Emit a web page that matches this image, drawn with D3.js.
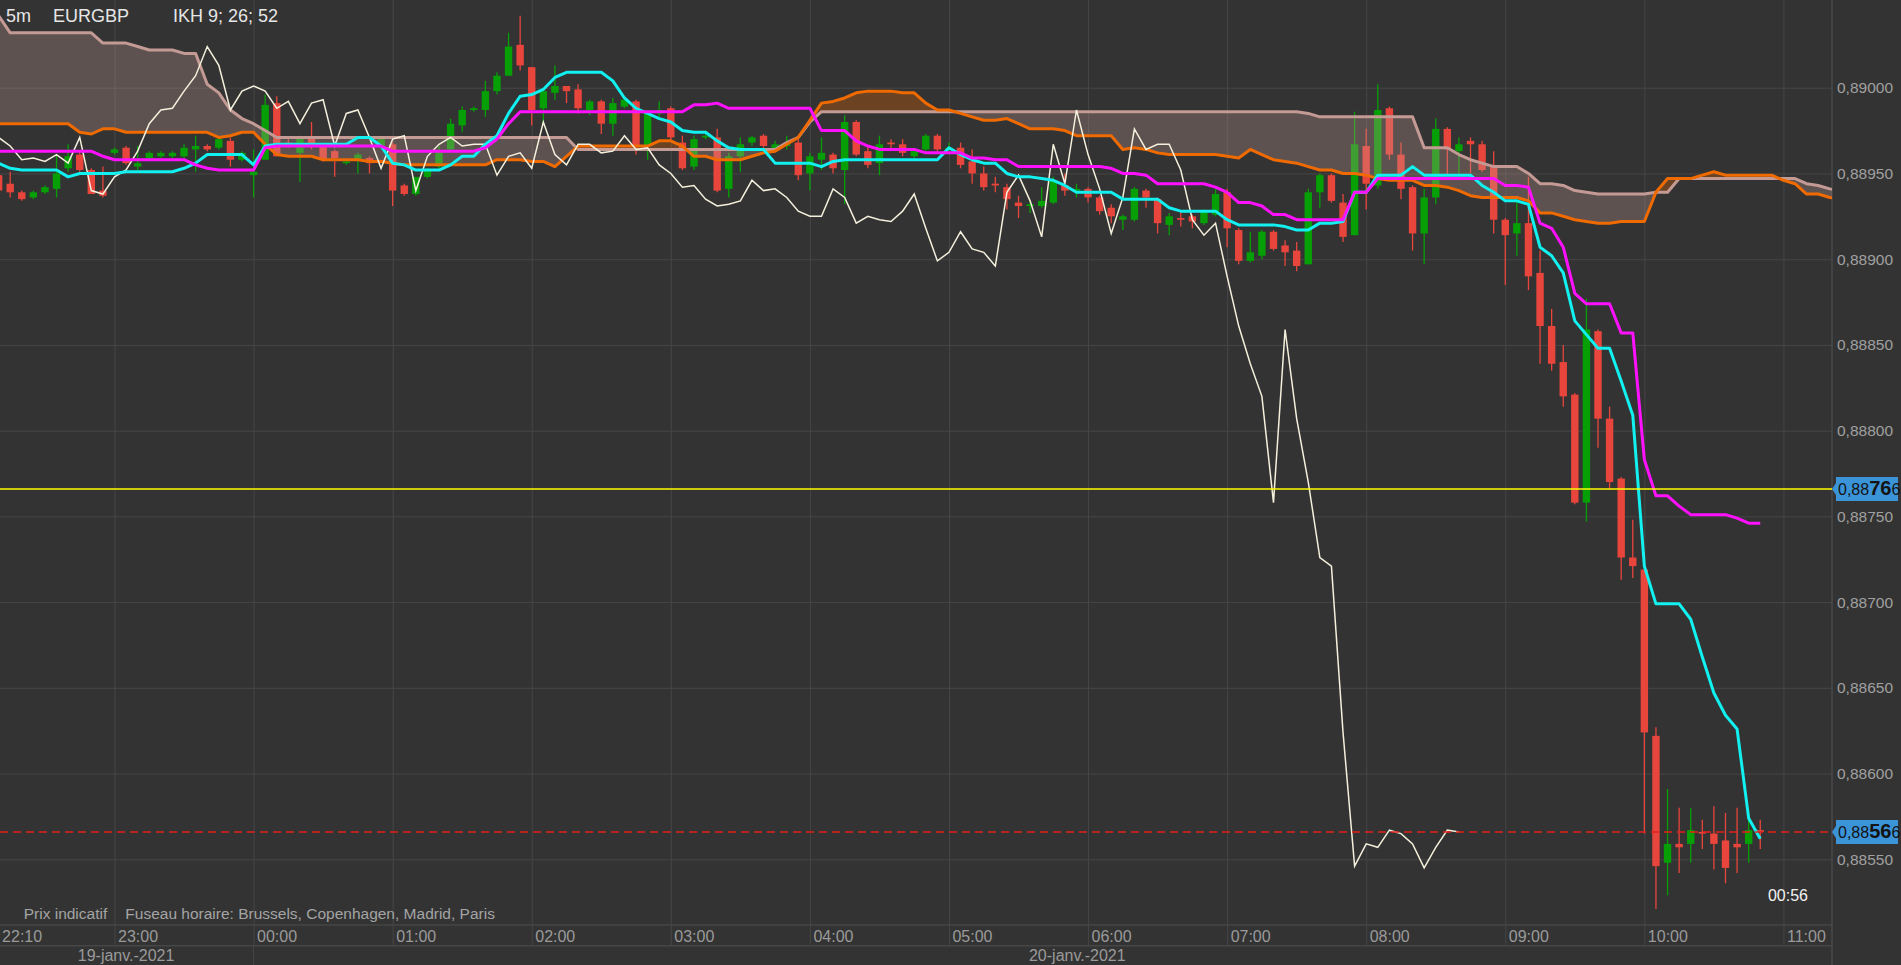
<!DOCTYPE html>
<html>
<head>
<meta charset="utf-8">
<script src="https://cdn.jsdelivr.net/npm/d3@7"></script>
<style>
  body { margin: 0; background: #333333; overflow: hidden; }
  svg { display: block; font-family: "Liberation Sans", Arial, sans-serif; }
</style>
</head>
<body>
<div id="chart"></div>
<script>
// 5 minute candles, EURGBP, 19-01-2021 22:10 -> 20-01-2021 10:50
const opens = [
  0.88949,0.88944,0.88939,0.88936,0.88939,0.88941,0.88953,0.88961,0.88952,0.88940,
  0.88962,0.88965,0.88954,0.88959,0.88960,0.88960,0.88960,0.88964,0.88966,0.88965,
  0.88969,0.88958,0.88949,0.88958,0.88991,0.88968,0.88962,0.88971,0.88966,0.88963,
  0.88956,0.88958,0.88959,0.88966,0.88967,0.88943,0.88938,0.88948,0.88954,0.88964,
  0.88978,0.88987,0.88987,0.88998,0.89007,0.89025,0.89012,0.88988,0.88997,0.89001,
  0.88999,0.88987,0.88992,0.88979,0.88989,0.88992,0.88966,0.88985,0.88988,0.88968,
  0.88954,0.88971,0.88971,0.88941,0.88960,0.88968,0.88972,0.88964,0.88966,0.88968,
  0.88950,0.88958,0.88961,0.88952,0.88980,0.88963,0.88956,0.88968,0.88967,0.88960,
  0.88964,0.88972,0.88964,0.88965,0.88957,0.88950,0.88944,0.88942,0.88933,0.88931,
  0.88931,0.88933,0.88943,0.88940,0.88941,0.88936,0.88930,0.88923,0.88923,0.88940,
  0.88935,0.88920,0.88924,0.88925,0.88921,0.88926,0.88939,0.88917,0.88899,0.88902,
  0.88916,0.88908,0.88905,0.88897,0.88939,0.88949,0.88933,0.88914,0.88966,0.88943,
  0.88988,0.88961,0.88942,0.88915,0.88936,0.88976,0.88963,0.88969,0.88967,0.88954,
  0.88923,0.88915,0.88921,0.88892,0.88861,0.88840,0.88821,0.88758,0.88858,0.88807,
  0.88772,0.88726,0.88719,0.88622,0.88548,0.88559,0.88559,0.88566,0.88565,0.88561,
  0.88559,0.88559,0.88567
];
const highs = [
  0.88951,0.88951,0.88940,0.88940,0.88943,0.88961,0.88967,0.88963,0.88953,0.88954,
  0.88965,0.88966,0.88966,0.88963,0.88963,0.88963,0.88967,0.88972,0.88967,0.88971,
  0.88971,0.88963,0.88964,0.88996,0.88995,0.88970,0.88972,0.88980,0.88967,0.88964,
  0.88958,0.88962,0.88960,0.88972,0.88968,0.88944,0.88948,0.88953,0.88966,0.88982,
  0.88989,0.88989,0.89004,0.89009,0.89032,0.89042,0.89012,0.89000,0.89013,0.89001,
  0.89002,0.88993,0.88993,0.88994,0.88994,0.88993,0.88987,0.88992,0.88989,0.88972,
  0.88972,0.88975,0.88976,0.88962,0.88971,0.88972,0.88973,0.88969,0.88972,0.88970,
  0.88962,0.88971,0.88962,0.88984,0.88981,0.88966,0.88972,0.88970,0.88970,0.88965,
  0.88973,0.88973,0.88968,0.88968,0.88964,0.88954,0.88948,0.88944,0.88937,0.88934,
  0.88942,0.88948,0.88950,0.88944,0.88942,0.88937,0.88932,0.88926,0.88942,0.88941,
  0.88936,0.88927,0.88928,0.88926,0.88929,0.88941,0.88941,0.88918,0.88916,0.88917,
  0.88917,0.88911,0.88910,0.88941,0.88950,0.88950,0.88938,0.88986,0.88976,0.89002,
  0.88989,0.88968,0.88943,0.88941,0.88982,0.88977,0.88971,0.88971,0.88969,0.88963,
  0.88924,0.88937,0.88948,0.88905,0.88871,0.88850,0.88822,0.88877,0.88859,0.88814,
  0.88773,0.88748,0.88729,0.88627,0.88591,0.88580,0.88580,0.88573,0.88581,0.88577,
  0.88580,0.88573,0.88573
];
const lows = [
  0.88938,0.88936,0.88934,0.88935,0.88938,0.88936,0.88951,0.88951,0.88938,0.88936,
  0.88961,0.88955,0.88952,0.88958,0.88959,0.88959,0.88959,0.88951,0.88963,0.88964,
  0.88954,0.88957,0.88936,0.88958,0.88960,0.88965,0.88945,0.88964,0.88957,0.88948,
  0.88955,0.88950,0.88950,0.88965,0.88931,0.88937,0.88937,0.88947,0.88953,0.88962,
  0.88974,0.88986,0.88983,0.88996,0.89007,0.89010,0.88978,0.88979,0.88993,0.88991,
  0.88985,0.88984,0.88973,0.88972,0.88988,0.88961,0.88958,0.88983,0.88969,0.88952,
  0.88952,0.88970,0.88939,0.88936,0.88951,0.88966,0.88965,0.88963,0.88964,0.88946,
  0.88940,0.88952,0.88950,0.88932,0.88960,0.88953,0.88949,0.88964,0.88960,0.88959,
  0.88963,0.88962,0.88963,0.88953,0.88944,0.88940,0.88939,0.88929,0.88924,0.88927,
  0.88930,0.88932,0.88937,0.88936,0.88933,0.88926,0.88921,0.88917,0.88922,0.88930,
  0.88915,0.88914,0.88919,0.88918,0.88920,0.88925,0.88907,0.88897,0.88898,0.88900,
  0.88905,0.88896,0.88893,0.88897,0.88930,0.88933,0.88910,0.88914,0.88929,0.88941,
  0.88958,0.88935,0.88905,0.88897,0.88932,0.88949,0.88949,0.88950,0.88951,0.88915,
  0.88885,0.88902,0.88882,0.88839,0.88835,0.88814,0.88757,0.88747,0.88790,0.88766,
  0.88713,0.88714,0.88565,0.88521,0.88529,0.88542,0.88548,0.88556,0.88544,0.88536,
  0.88542,0.88548,0.88556
];
const closes = [
  0.88940,0.88939,0.88935,0.88939,0.88942,0.88950,0.88960,0.88952,0.88938,0.88937,
  0.88964,0.88956,0.88956,0.88962,0.88962,0.88962,0.88965,0.88966,0.88964,0.88970,
  0.88958,0.88962,0.88951,0.88990,0.88960,0.88966,0.88971,0.88966,0.88958,0.88959,
  0.88957,0.88961,0.88956,0.88971,0.88940,0.88938,0.88948,0.88952,0.88963,0.88979,
  0.88987,0.88988,0.88998,0.89007,0.89024,0.89013,0.88987,0.88998,0.89001,0.88998,
  0.88988,0.88992,0.88979,0.88991,0.88993,0.88966,0.88985,0.88987,0.88971,0.88953,
  0.88970,0.88972,0.88940,0.88960,0.88967,0.88971,0.88966,0.88967,0.88967,0.88949,
  0.88960,0.88962,0.88953,0.88980,0.88961,0.88955,0.88967,0.88967,0.88962,0.88963,
  0.88972,0.88964,0.88965,0.88955,0.88950,0.88942,0.88943,0.88935,0.88931,0.88932,
  0.88934,0.88946,0.88940,0.88941,0.88936,0.88928,0.88925,0.88925,0.88941,0.88936,
  0.88921,0.88925,0.88923,0.88922,0.88928,0.88938,0.88918,0.88899,0.88904,0.88916,
  0.88906,0.88904,0.88896,0.88939,0.88949,0.88934,0.88913,0.88967,0.88944,0.88987,
  0.88961,0.88941,0.88915,0.88936,0.88976,0.88964,0.88967,0.88967,0.88952,0.88923,
  0.88914,0.88921,0.88890,0.88861,0.88839,0.88820,0.88758,0.88859,0.88807,0.88770,
  0.88726,0.88721,0.88624,0.88546,0.88559,0.88557,0.88567,0.88565,0.88559,0.88545,
  0.88557,0.88567,0.88566
];

// Ichimoku lines, one value per candle
const tenkan = [
  0.88956,0.88953,0.88952,0.88952,0.88952,0.88952,0.88948,0.88950,0.88950,0.88950,
  0.88950,0.88951,0.88951,0.88951,0.88951,0.88951,0.88953,0.88956,0.88961,0.88961,
  0.88961,0.88961,0.88955,0.88966,0.88967,0.88967,0.88967,0.88967,0.88967,0.88967,
  0.88967,0.88971,0.88971,0.88966,0.88956,0.88955,0.88952,0.88952,0.88952,0.88955,
  0.88960,0.88960,0.88967,0.88972,0.88985,0.88995,0.88996,0.88999,0.89006,0.89009,
  0.89009,0.89009,0.89009,0.89004,0.88994,0.88988,0.88985,0.88982,0.88980,0.88975,
  0.88974,0.88974,0.88969,0.88965,0.88964,0.88964,0.88964,0.88956,0.88956,0.88956,
  0.88956,0.88954,0.88957,0.88958,0.88958,0.88958,0.88958,0.88958,0.88958,0.88958,
  0.88958,0.88958,0.88965,0.88961,0.88958,0.88956,0.88956,0.88950,0.88948,0.88948,
  0.88947,0.88946,0.88943,0.88939,0.88939,0.88939,0.88939,0.88935,0.88935,0.88935,
  0.88935,0.88930,0.88928,0.88928,0.88928,0.88928,0.88923,0.88920,0.88920,0.88920,
  0.88920,0.88919,0.88917,0.88917,0.88921,0.88921,0.88922,0.88939,0.88939,0.88949,
  0.88949,0.88949,0.88954,0.88949,0.88949,0.88949,0.88949,0.88949,0.88943,0.88939,
  0.88934,0.88934,0.88932,0.88907,0.88902,0.88892,0.88864,0.88856,0.88848,0.88848,
  0.88829,0.88809,0.88721,0.88699,0.88699,0.88699,0.88690,0.88668,0.88647,0.88634,
  0.88626,0.88574,0.88562
];
const kijun = [
  0.88963,0.88963,0.88963,0.88963,0.88963,0.88963,0.88963,0.88963,0.88963,0.88960,
  0.88958,0.88958,0.88958,0.88958,0.88958,0.88958,0.88958,0.88955,0.88953,0.88952,
  0.88952,0.88952,0.88952,0.88965,0.88966,0.88966,0.88966,0.88966,0.88966,0.88966,
  0.88966,0.88966,0.88966,0.88966,0.88963,0.88963,0.88963,0.88963,0.88963,0.88963,
  0.88963,0.88963,0.88965,0.88970,0.88979,0.88986,0.88986,0.88986,0.88986,0.88986,
  0.88986,0.88986,0.88986,0.88986,0.88986,0.88986,0.88986,0.88986,0.88986,0.88986,
  0.88990,0.88990,0.88991,0.88988,0.88988,0.88988,0.88988,0.88988,0.88988,0.88988,
  0.88988,0.88975,0.88975,0.88975,0.88969,0.88966,0.88964,0.88964,0.88964,0.88964,
  0.88962,0.88962,0.88962,0.88962,0.88959,0.88959,0.88958,0.88958,0.88954,0.88954,
  0.88954,0.88954,0.88954,0.88954,0.88954,0.88954,0.88953,0.88950,0.88950,0.88949,
  0.88944,0.88944,0.88944,0.88944,0.88944,0.88942,0.88939,0.88933,0.88933,0.88931,
  0.88926,0.88926,0.88923,0.88923,0.88923,0.88923,0.88923,0.88939,0.88939,0.88947,
  0.88947,0.88947,0.88947,0.88947,0.88947,0.88947,0.88947,0.88947,0.88947,0.88947,
  0.88943,0.88943,0.88942,0.88921,0.88918,0.88907,0.88880,0.88874,0.88874,0.88874,
  0.88857,0.88857,0.88783,0.88762,0.88762,0.88756,0.88751,0.88751,0.88751,0.88751,
  0.88749,0.88746,0.88746
];
// cloud spans, already displaced forward (run past the right edge)
const senkouA = [
  0.88979,0.88979,0.88979,0.88979,0.88979,0.88979,0.88979,0.88974,0.88973,0.88976,
  0.88976,0.88974,0.88974,0.88974,0.88974,0.88974,0.88974,0.88974,0.88974,0.88971,
  0.88972,0.88974,0.88974,0.88967,0.88961,0.88960,0.88960,0.88960,0.88958,0.88958,
  0.88958,0.88958,0.88957,0.88957,0.88956,0.88955,0.88955,0.88955,0.88955,0.88955,
  0.88955,0.88955,0.88955,0.88958,0.88958,0.88958,0.88957,0.88957,0.88954,0.88960,
  0.88966,0.88966,0.88966,0.88966,0.88966,0.88966,0.88966,0.88969,0.88969,0.88966,
  0.88960,0.88960,0.88958,0.88958,0.88958,0.88960,0.88962,0.88963,0.88967,0.88971,
  0.88981,0.88991,0.88992,0.88994,0.88997,0.88998,0.88998,0.88998,0.88997,0.88997,
  0.88991,0.88987,0.88987,0.88985,0.88983,0.88981,0.88981,0.88982,0.88979,0.88976,
  0.88976,0.88976,0.88975,0.88972,0.88972,0.88972,0.88972,0.88964,0.88965,0.88964,
  0.88962,0.88961,0.88961,0.88961,0.88961,0.88961,0.88960,0.88959,0.88964,0.88961,
  0.88958,0.88957,0.88956,0.88954,0.88952,0.88952,0.88950,0.88950,0.88949,0.88947,
  0.88946,0.88946,0.88946,0.88943,0.88943,0.88942,0.88940,0.88937,0.88936,0.88936,
  0.88936,0.88936,0.88934,0.88927,0.88927,0.88925,0.88923,0.88922,0.88921,0.88921,
  0.88922,0.88922,0.88922,0.88939,0.88947,0.88947,0.88947,0.88949,0.88951,0.88949,
  0.88949,0.88949,0.88949,0.88949,0.88946,0.88944,0.88938,0.88938,0.88936,0.88935
];
const senkouB = [
  0.89042,0.89032,0.89032,0.89032,0.89032,0.89032,0.89032,0.89032,0.89032,0.89026,
  0.89026,0.89026,0.89024,0.89022,0.89022,0.89022,0.89020,0.89020,0.89002,0.88997,
  0.88987,0.88982,0.88979,0.88975,0.88971,0.88971,0.88971,0.88971,0.88971,0.88971,
  0.88971,0.88971,0.88971,0.88971,0.88971,0.88971,0.88971,0.88971,0.88971,0.88971,
  0.88971,0.88971,0.88971,0.88971,0.88971,0.88971,0.88971,0.88971,0.88971,0.88971,
  0.88964,0.88964,0.88964,0.88964,0.88964,0.88964,0.88964,0.88964,0.88964,0.88964,
  0.88964,0.88964,0.88964,0.88964,0.88964,0.88964,0.88964,0.88964,0.88968,0.88971,
  0.88980,0.88986,0.88986,0.88986,0.88986,0.88986,0.88986,0.88986,0.88986,0.88986,
  0.88986,0.88986,0.88986,0.88986,0.88986,0.88986,0.88986,0.88986,0.88986,0.88986,
  0.88986,0.88986,0.88986,0.88986,0.88986,0.88986,0.88986,0.88986,0.88986,0.88986,
  0.88986,0.88986,0.88986,0.88986,0.88986,0.88986,0.88986,0.88986,0.88986,0.88986,
  0.88986,0.88986,0.88986,0.88985,0.88983,0.88983,0.88983,0.88983,0.88983,0.88983,
  0.88983,0.88983,0.88983,0.88965,0.88965,0.88965,0.88961,0.88958,0.88956,0.88954,
  0.88954,0.88954,0.88950,0.88944,0.88944,0.88943,0.88940,0.88939,0.88938,0.88938,
  0.88938,0.88938,0.88938,0.88939,0.88939,0.88947,0.88947,0.88947,0.88947,0.88947,
  0.88947,0.88947,0.88947,0.88947,0.88947,0.88947,0.88944,0.88943,0.88941,0.88940
];
const chikouShift = 26;

const priceTicks = [0.8855, 0.8860, 0.8865, 0.8870, 0.8875, 0.8880, 0.8885, 0.8890, 0.8895, 0.8900];
const refPrice = 0.88766;   // yellow line
const lastPrice = 0.88566;  // red dashed line
const titleParts = ["5m", "EURGBP", "IKH 9; 26; 52"];
const footNotes = ["Prix indicatif", "Fuseau horaire: Brussels, Copenhagen, Madrid, Paris"];
const countdown = "00:56";

const width = 1901, height = 965;
const plotW = 1832, plotH = 925, dateTop = 945.7;
const gridColor = "#464646";

const t0 = new Date(2021, 0, 19, 22, 10);
const timeAt = i => new Date(+t0 + i * 5 * 60 * 1000);

const x = d3.scaleTime().domain([t0, timeAt(158)]).range([-1.4, 1829.8]);
const y = d3.scaleLinear().domain([0.8851169, 0.8905115]).range([plotH, 0]);

const frLocale = d3.timeFormatLocale({
  dateTime: "%A %e %B %Y à %X", date: "%d/%m/%Y", time: "%H:%M:%S", periods: ["AM", "PM"],
  days: ["dimanche", "lundi", "mardi", "mercredi", "jeudi", "vendredi", "samedi"],
  shortDays: ["dim.", "lun.", "mar.", "mer.", "jeu.", "ven.", "sam."],
  months: ["janvier", "février", "mars", "avril", "mai", "juin", "juillet", "août", "septembre", "octobre", "novembre", "décembre"],
  shortMonths: ["janv.", "févr.", "mars", "avr.", "mai", "juin", "juil.", "août", "sept.", "oct.", "nov.", "déc."]
});
const fmtPrice = d3.formatLocale({ decimal: ",", thousands: ".", grouping: [3], currency: ["", " €"] }).format(".5f");

const svg = d3.select("#chart")
  .append("svg")
  .attr("width", width)
  .attr("height", height);

svg.append("rect").attr("width", width).attr("height", height).attr("fill", "#333333");

const defs = svg.append("defs");
defs.append("clipPath").attr("id", "plot-clip")
  .append("rect").attr("width", plotW).attr("height", plotH);

// horizontal grid
const gridY = svg.append("g")
  .call(d3.axisLeft(y).tickValues(priceTicks).tickSize(-plotW).tickFormat(""));
gridY.select(".domain").remove();
gridY.selectAll("line").attr("stroke", gridColor);

// vertical hour grid, down through the time row
const hourTicks = d3.timeHour.range(new Date(2021, 0, 19, 23), new Date(2021, 0, 20, 11, 1));
const gridX = svg.append("g")
  .attr("transform", `translate(0,${dateTop})`)
  .call(d3.axisBottom(x).tickValues(hourTicks).tickSize(-dateTop).tickFormat(""));
gridX.select(".domain").remove();
gridX.selectAll("line").attr("stroke", gridColor);

// day separator continues into the date row
const midnight = new Date(2021, 0, 20);
svg.append("line")
  .attr("x1", x(midnight)).attr("x2", x(midnight))
  .attr("y1", dateTop).attr("y2", height)
  .attr("stroke", gridColor);

// time rows and price panel border
[plotH, dateTop].forEach(v => {
  svg.append("line").attr("x1", 0).attr("x2", plotW).attr("y1", v).attr("y2", v)
    .attr("stroke", gridColor).attr("stroke-width", 1.5);
});
svg.append("line").attr("x1", plotW).attr("x2", plotW).attr("y1", 0).attr("y2", height)
  .attr("stroke", "#4a4a4a").attr("stroke-width", 1.5);

const plot = svg.append("g").attr("clip-path", "url(#plot-clip)");

// candles
const candles = opens.map((o, i) => ({ t: timeAt(i), o, h: highs[i], l: lows[i], c: closes[i] }));
const up = "#06a006", down = "#e8453c";
const bodyW = 7.4;

const cg = plot.append("g")
  .selectAll("g")
  .data(candles)
  .join("g");
cg.append("line")
  .attr("x1", d => x(d.t)).attr("x2", d => x(d.t))
  .attr("y1", d => y(d.h)).attr("y2", d => y(d.l))
  .attr("stroke", d => d.c >= d.o ? up : down)
  .attr("stroke-width", 1.3);
cg.append("rect")
  .attr("x", d => x(d.t) - bodyW / 2)
  .attr("y", d => y(Math.max(d.o, d.c)))
  .attr("width", bodyW)
  .attr("height", d => Math.max(1.5, Math.abs(y(d.o) - y(d.c))))
  .attr("fill", d => d.c >= d.o ? up : down);

// kumo
const cloud = senkouA.map((a, i) => ({ t: timeAt(i), a, b: senkouB[i] }));
const between = d3.area().x(d => x(d.t)).y0(d => y(d.b)).y1(d => y(d.a));
defs.append("clipPath").attr("id", "above-b")
  .append("path").attr("d", d3.area().x(d => x(d.t)).y0(-50).y1(d => y(d.b))(cloud));
defs.append("clipPath").attr("id", "below-b")
  .append("path").attr("d", d3.area().x(d => x(d.t)).y0(plotH + 50).y1(d => y(d.b))(cloud));

plot.append("g").attr("clip-path", "url(#above-b)")
  .append("path").attr("d", between(cloud))
  .attr("fill", "#f06a00").attr("fill-opacity", 0.3);
plot.append("g").attr("clip-path", "url(#below-b)")
  .append("path").attr("d", between(cloud))
  .attr("fill", "#c59a94").attr("fill-opacity", 0.3);

const lineOf = key => d3.line().x(d => x(d.t)).y(d => y(d[key]));
plot.append("path").datum(cloud).attr("d", lineOf("b"))
  .attr("fill", "none").attr("stroke", "#c49a94").attr("stroke-width", 3).attr("stroke-linejoin", "round");
plot.append("path").datum(cloud).attr("d", lineOf("a"))
  .attr("fill", "none").attr("stroke", "#ef6a00").attr("stroke-width", 3).attr("stroke-linejoin", "round");

// chikou span: closes drawn 26 periods back
const chikou = closes.slice(chikouShift).map((v, j) => ({ t: timeAt(j), v }));
plot.append("path").datum(chikou).attr("d", lineOf("v"))
  .attr("fill", "none").attr("stroke", "#f4f0dc").attr("stroke-width", 1.5);

const tk = tenkan.map((v, i) => ({ t: timeAt(i), v }));
const kj = kijun.map((v, i) => ({ t: timeAt(i), v }));
plot.append("path").datum(tk).attr("d", lineOf("v"))
  .attr("fill", "none").attr("stroke", "#12f0f0").attr("stroke-width", 3).attr("stroke-linejoin", "round");
plot.append("path").datum(kj).attr("d", lineOf("v"))
  .attr("fill", "none").attr("stroke", "#ff10ff").attr("stroke-width", 3).attr("stroke-linejoin", "round");

// price lines
plot.append("line")
  .attr("x1", 0).attr("x2", plotW).attr("y1", y(refPrice)).attr("y2", y(refPrice))
  .attr("stroke", "#ffff00").attr("stroke-width", 1.6);
plot.append("line")
  .attr("x1", 0).attr("x2", plotW).attr("y1", y(lastPrice)).attr("y2", y(lastPrice))
  .attr("stroke", "#e4201a").attr("stroke-width", 1.5).attr("stroke-dasharray", "8,5");

// price axis
const yAxis = svg.append("g")
  .attr("transform", `translate(${plotW},0)`)
  .call(d3.axisRight(y).tickValues(priceTicks).tickSize(0).tickPadding(5).tickFormat(fmtPrice));
yAxis.attr("font-family", null).attr("font-size", null);
yAxis.select(".domain").remove();
yAxis.selectAll("text").attr("fill", "#a0a0a0").style("font-size", "15.5px");

function priceTag(v) {
  const yc = y(v);
  const g = svg.append("g");
  g.append("path")
    .attr("d", `M${plotW},${yc} L${plotW + 4},${yc - 6} L${plotW + 4},${yc - 12} L1898,${yc - 12} L1898,${yc + 12} L${plotW + 4},${yc + 12} L${plotW + 4},${yc + 6} Z`)
    .attr("fill", "#3b93d8");
  const s = fmtPrice(v);
  const txt = g.append("text").attr("x", plotW + 6).attr("y", yc + 6).attr("fill", "#141414");
  txt.append("tspan").style("font-size", "16px").text(s.slice(0, 4));
  txt.append("tspan").style("font-size", "20px").attr("font-weight", "bold").text(s.slice(4, 6));
  txt.append("tspan").style("font-size", "16px").text(s.slice(6));
}
priceTag(refPrice);
priceTag(lastPrice);

// time axis
const timeAxis = svg.append("g")
  .attr("transform", `translate(0,${plotH})`)
  .call(d3.axisBottom(x).tickValues([t0, ...hourTicks]).tickSize(0).tickFormat(d3.timeFormat("%H:%M")));
timeAxis.attr("font-family", null).attr("font-size", null);
timeAxis.select(".domain").remove();
timeAxis.selectAll("text")
  .attr("text-anchor", "start").attr("x", 3).attr("y", 16.5).attr("dy", null)
  .attr("fill", "#9a9a9a").style("font-size", "16px");

// date row
const fmtDay = frLocale.format("%d-%b-%Y");
const days = [[t0, x(t0), x(midnight)], [midnight, x(midnight), width]];
svg.append("g").selectAll("text")
  .data(days)
  .join("text")
  .attr("x", d => (d[1] + d[2]) / 2)
  .attr("y", 961)
  .attr("text-anchor", "middle")
  .attr("fill", "#9a9a9a")
  .style("font-size", "16px")
  .text(d => fmtDay(d[0]));

// header
const titleX = [6, 53, 173];
svg.append("g").selectAll("text")
  .data(titleParts)
  .join("text")
  .attr("x", (d, i) => titleX[i])
  .attr("y", 22)
  .attr("fill", "#e6e6e6")
  .style("font-size", "18px")
  .text(d => d);

// footnotes
const footX = [23.7, 125.3];
svg.append("g").selectAll("text")
  .data(footNotes)
  .join("text")
  .attr("x", (d, i) => footX[i])
  .attr("y", 919)
  .attr("fill", "#a4a4a4")
  .style("font-size", "15.5px")
  .text(d => d);

svg.append("text")
  .attr("x", 1788).attr("y", 901)
  .attr("text-anchor", "middle")
  .attr("fill", "#f2f2f2")
  .style("font-size", "16px")
  .text(countdown);
</script>
</body>
</html>
